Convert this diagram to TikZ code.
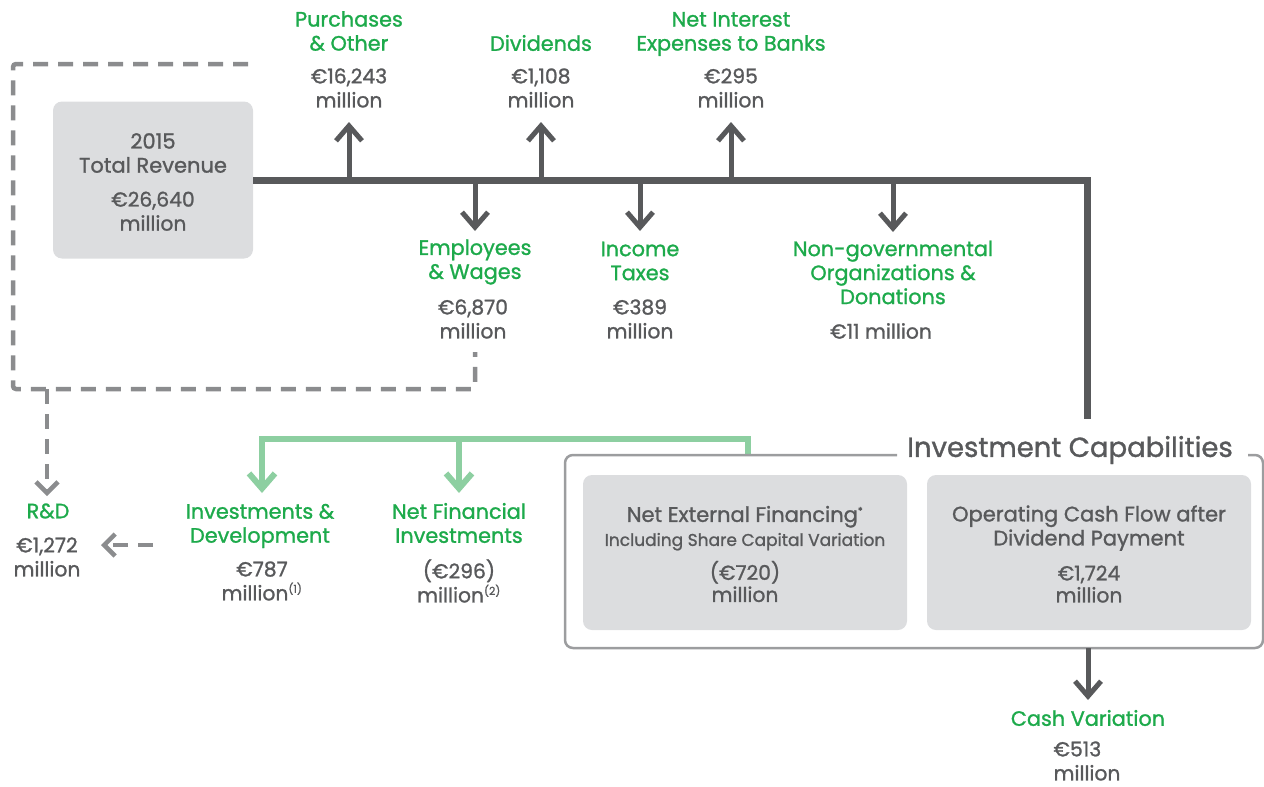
\documentclass[tikz,border=0pt]{standalone}
\usepackage{fontspec}
\setmainfont{Poppins}[FakeBold=1.2]
\usetikzlibrary{arrows.meta}

\definecolor{ink}{HTML}{58595B}
\definecolor{leaf}{HTML}{1DAA4B}
\definecolor{mint}{HTML}{8DCFA1}
\definecolor{panel}{HTML}{DCDDDF}
\definecolor{dashgray}{HTML}{8B8C8E}
\definecolor{framegray}{HTML}{9C9D9F}

\newcommand\hdfont{\fontsize{20.8}{24}\selectfont}
\newcommand\amfont{\fontsize{20.3}{24}\selectfont}
\newcommand\bxfont{\fontsize{21}{24}\selectfont}
\newcommand\smfont{\fontsize{17}{18}\selectfont}
\newcommand\ttlfont{\fontsize{27.5}{30}\selectfont}

\tikzset{
  bus/.style={line width=7pt, draw=ink, line join=miter},
  feed/.style={line width=5pt, draw=ink, -{Straight Barb[length=15pt,width=26pt]}},
  mintline/.style={line width=6pt, draw=mint, line join=miter},
  mintfeed/.style={mintline, -{Straight Barb[length=15pt,width=26pt]}},
  dashline/.style={line width=4.5pt, draw=dashgray, dash pattern=on 15pt off 10pt},
  dashfeed/.style={dashline, -{Straight Barb[length=11pt,width=22pt]}},
  head/.style={text=leaf, font=\hdfont, align=center, inner sep=0pt},
  amount/.style={text=ink, font=\amfont, align=center, inner sep=0pt},
  panelbox/.style={fill=panel, rounded corners=9pt, inner sep=0pt},
  paneltext/.style={text=ink, font=\bxfont, align=center, inner sep=0pt},
  frameline/.style={line width=2.5pt, draw=framegray, rounded corners=8pt},
}

\begin{document}
\begin{tikzpicture}[x=1pt, y=-1pt]
\useasboundingbox (0,0) rectangle (1264,787);

% --- revenue and the main distribution bus ---
\node[panelbox, minimum width=200pt, minimum height=157pt] (rev) at (153,180) {};
\node[paneltext] (revT) at (153,182)
  {2015\\Total Revenue\\[10pt]{\amfont €26,640}\\{\amfont million}};

\coordinate (busTurn) at (1087,180);
\coordinate (busEnd) at (1087,419);
\draw[bus] (rev.east) -- (busTurn) -- (busEnd);

% --- outflows above the bus ---
\node[head] (purH) at (349,31) {Purchases\\\& Other};
\node[amount] (purA) at (349,88) {€16,243\\million};
\node[head] (divH) at (541,43) {Dividends};
\node[amount] (divA) at (541,88) {€1,108\\million};
\node[head] (nibH) at (731,34) {Net Interest\\Expenses to Banks};
\node[amount] (nibA) at (731,88) {€295\\million};

\coordinate (bPur) at (349,180); \coordinate (tPur) at (349,122);
\coordinate (bDiv) at (541,180); \coordinate (tDiv) at (541,122);
\coordinate (bNib) at (731,180); \coordinate (tNib) at (731,122);
\draw[feed] (bPur) -- (tPur);
\draw[feed] (bDiv) -- (tDiv);
\draw[feed] (bNib) -- (tNib);

% --- outflows below the bus ---
\node[head] (empH) at (475,262) {Employees\\\& Wages};
\node[amount] (empA) at (473,319) {€6,870\\million};
\node[head] (taxH) at (640,261) {Income\\Taxes};
\node[amount] (taxA) at (640,319) {€389\\million};
\node[head] (ngoH) at (893,272.5) {Non-governmental\\Organizations \&\\Donations};
\node[amount] (ngoA) at (881,331) {€11 million};

\coordinate (bEmp) at (475,180); \coordinate (tEmp) at (475,231);
\coordinate (bTax) at (640,180); \coordinate (tTax) at (640,231);
\coordinate (bNgo) at (893,180); \coordinate (tNgo) at (893,232);
\draw[feed] (bEmp) -- (tEmp);
\draw[feed] (bTax) -- (tTax);
\draw[feed] (bNgo) -- (tNgo);

% --- R&D share of spending (dashed) ---
\coordinate (dTop) at (248,64);
\coordinate (dTL) at (13,64);
\coordinate (dBL) at (13,389);
\coordinate (dBR) at (475,389);
\coordinate (dEnd) at (475,352);
\draw[dashline, rounded corners=3pt] (dTop) -- (dTL) -- (dBL) -- (dBR) -- (dEnd);

\node[head] (rdH) at (48,511) {R\&D};
\node[amount] (rdA) at (47,557) {€1,272\\million};
\coordinate (rdFrom) at (47,389); \coordinate (rdTip) at (47,496);
\draw[dashfeed] (rdFrom) -- (rdTip);

% --- investment branches (green) ---
\node[head] (indH) at (260,526) {Investments \&\\Development};
\node[amount] (indA) at (262,581) {€787\\million\textsuperscript{\fontsize{11}{11}\selectfont(1)}};
\node[head] (nfiH) at (459,523) {Net Financial\\Investments};
\node[amount] (nfiA) at (459,581) {(€296)\\million\textsuperscript{\fontsize{11}{11}\selectfont(2)}};

\coordinate (rdDash) at (153,545); \coordinate (rdLeft) at (101,545);
\draw[dashfeed] (rdDash) -- (rdLeft);

\coordinate (gSrc) at (748,456);
\coordinate (gTurn) at (748,439);
\coordinate (gLeft) at (262,439);
\coordinate (tInd) at (262,493);
\coordinate (gMid) at (459,439);
\coordinate (tNfi) at (459,493);
\draw[mintfeed] (gSrc) -- (gTurn) -- (gLeft) -- (tInd);
\draw[mintfeed] (gMid) -- (tNfi);

% --- investment capabilities frame ---
\node[text=ink, font=\ttlfont, inner sep=0pt] (icap) at (1070,450) {Investment Capabilities};
\coordinate (fA) at (897,455);
\coordinate (fTL) at (565,455);
\coordinate (fBL) at (565,648);
\coordinate (fBR) at (1263,648);
\coordinate (fTR) at (1263,455);
\coordinate (fB) at (1248,455);
\draw[frameline] (fA) -- (fTL) -- (fBL) -- (fBR) -- (fTR) -- (fB);

\node[panelbox, minimum width=324pt, minimum height=155pt] (nef) at (745,552.5) {};
\node[paneltext] (nefT) at (745,554)
  {Net External Financing\textsuperscript{\fontsize{10}{10}\selectfont *}\\[0pt]
   {\smfont Including Share Capital Variation}\\[10pt]
   {\amfont (€720)}\\[-2pt]{\amfont million}};
\node[panelbox, minimum width=324pt, minimum height=155pt] (ocf) at (1089,552.5) {};
\node[paneltext] (ocfT) at (1089,554)
  {Operating Cash Flow after\\Dividend Payment\\[11pt]{\amfont €1,724}\\[-2pt]{\amfont million}};

% --- resulting cash variation ---
\coordinate (cvFrom) at (1088,648); \coordinate (cvTip) at (1088,700);
\draw[feed] (cvFrom) -- (cvTip);
\node[head] (cvH) at (1088,718) {Cash Variation};
\node[amount, align=left] (cvA) at (1087,761) {€513\\million};
\end{tikzpicture}
\end{document}
